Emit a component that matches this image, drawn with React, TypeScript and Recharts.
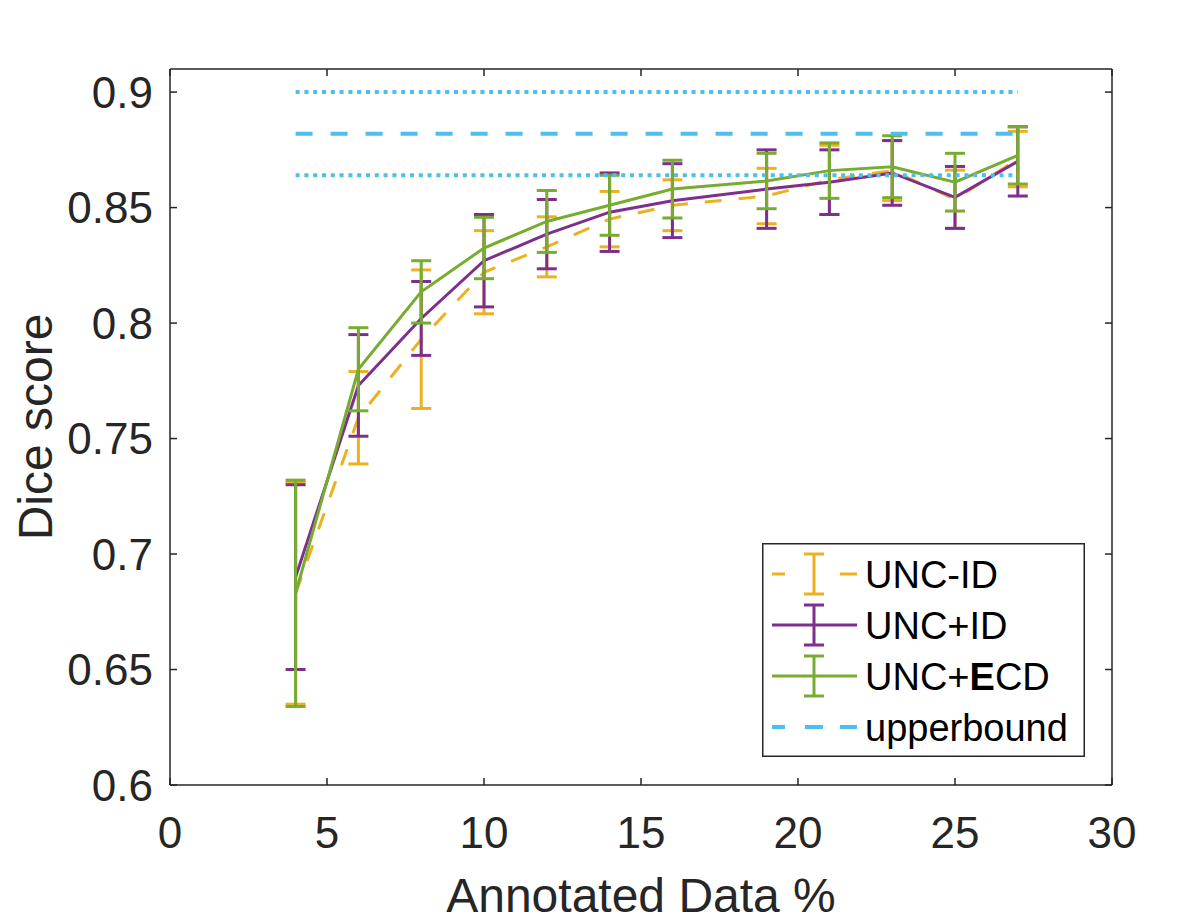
import { ComposedChart, ErrorBar, Legend, Line, XAxis, YAxis } from 'recharts';

// x positions (annotated data %) shared by the three methods
const ANNOTATED_PCT = [4, 6, 8, 10, 12, 14, 16, 19, 21, 23, 25, 27];

// mean Dice and half-width of the error bar
const UNC_ID = [0.683, 0.759, 0.793, 0.822, 0.833, 0.845, 0.851, 0.855, 0.862, 0.866, 0.8536, 0.871];
const UNC_ID_ERR = [0.048, 0.02, 0.03, 0.018, 0.013, 0.012, 0.011, 0.012, 0.015, 0.013, 0.0126, 0.012];
const UNC_PLUS_ID = [0.69, 0.773, 0.802, 0.827, 0.8385, 0.848, 0.853, 0.858, 0.861, 0.865, 0.8544, 0.87];
const UNC_PLUS_ID_ERR = [0.04, 0.022, 0.016, 0.02, 0.015, 0.017, 0.016, 0.017, 0.014, 0.014, 0.0134, 0.015];
const UNC_ECD = [0.683, 0.78, 0.8135, 0.8325, 0.844, 0.851, 0.858, 0.8615, 0.866, 0.8677, 0.861, 0.8726];
const UNC_ECD_ERR = [0.049, 0.018, 0.0135, 0.0133, 0.0134, 0.013, 0.0125, 0.012, 0.012, 0.0134, 0.0125, 0.0124];

// fully supervised upper bound (mean +/- std), drawn across the sampled range
const UPPERBOUND_SPAN = [4, 27];
const UPPERBOUND = 0.882;
const UPPERBOUND_STD = 0.018;

const X_TICKS = [0, 5, 10, 15, 20, 25, 30];
const Y_TICKS = [0.6, 0.65, 0.7, 0.75, 0.8, 0.85, 0.9];

const ORANGE = '#EDB120';
const PURPLE = '#7E2F8E';
const GREEN = '#77AC30';
const CYAN = '#4DBEEE';
const AXIS = '#262626';
const FONT = '"Liberation Sans", Arial, Helvetica, sans-serif';

const rows = ANNOTATED_PCT.map((x, i) => ({
  x,
  uncId: UNC_ID[i],
  uncIdErr: UNC_ID_ERR[i],
  uncPlusId: UNC_PLUS_ID[i],
  uncPlusIdErr: UNC_PLUS_ID_ERR[i],
  uncEcd: UNC_ECD[i],
  uncEcdErr: UNC_ECD_ERR[i],
}));

const upperRows = UPPERBOUND_SPAN.map((x) => ({
  x,
  ub: UPPERBOUND,
  ubHi: UPPERBOUND + UPPERBOUND_STD,
  ubLo: UPPERBOUND - UPPERBOUND_STD,
}));

const LEGEND_ROWS = [
  { key: 'uncId', color: ORANGE, dash: '13 55 17', errorBar: true },
  { key: 'uncPlusId', color: PURPLE, dash: undefined, errorBar: true },
  { key: 'uncEcd', color: GREEN, dash: undefined, errorBar: true },
  { key: 'ub', color: CYAN, dash: '13 20 18 17 17', errorBar: false },
];

function legendLabel(key: string) {
  if (key === 'uncId') return 'UNC-ID';
  if (key === 'uncPlusId') return 'UNC+ID';
  if (key === 'uncEcd')
    return (
      <>
        UNC+<tspan fontWeight="bold">E</tspan>CD
      </>
    );
  return 'upperbound';
}

function MatlabLegend() {
  return (
    <svg width={323} height={214} style={{ display: 'block' }}>
      <rect x={0.75} y={0.75} width={321.5} height={212.5} fill="#ffffff" stroke={AXIS} strokeWidth={1.5} />
      {LEGEND_ROWS.map((row, i) => {
        const cy = 31 + i * 51;
        return (
          <g key={row.key}>
            <line
              x1={10}
              x2={95}
              y1={cy}
              y2={cy}
              stroke={row.color}
              strokeWidth={row.key === 'ub' ? 4 : 3}
              strokeDasharray={row.dash}
            />
            {row.errorBar ? (
              <g stroke={row.color} strokeWidth={3}>
                <line x1={52} x2={52} y1={cy - 20} y2={cy + 20} />
                <line x1={42} x2={62} y1={cy - 20} y2={cy - 20} />
                <line x1={42} x2={62} y1={cy + 20} y2={cy + 20} />
              </g>
            ) : null}
            <text x={103} y={cy + 13.5} fontSize={38} fontFamily={FONT} fill="#000000">
              {legendLabel(row.key)}
            </text>
          </g>
        );
      })}
    </svg>
  );
}

const tickStyle = { fill: AXIS, fontSize: 44, fontFamily: FONT };

export default function App() {
  return (
    <div style={{ position: 'absolute', left: 0, top: 0, background: '#ffffff' }}>
      <ComposedChart
        width={1195}
        height={923}
        data={rows}
        margin={{ top: 68, right: 82, bottom: 0, left: 0 }}
      >
        <XAxis
          dataKey="x"
          type="number"
          domain={[0, 30]}
          ticks={X_TICKS}
          allowDataOverflow
          height={138}
          tickSize={-7}
          tickMargin={39}
          tick={tickStyle}
          axisLine={{ stroke: AXIS, strokeWidth: 1.5 }}
          tickLine={{ stroke: AXIS, strokeWidth: 1.5 }}
          label={({ viewBox }: any) => (
            <text
              x={viewBox.x + viewBox.width / 2}
              y={viewBox.y + 127}
              textAnchor="middle"
              fontSize={48}
              fontFamily={FONT}
              fill={AXIS}
            >
              Annotated Data %
            </text>
          )}
        />
        <XAxis
          xAxisId="top"
          orientation="top"
          dataKey="x"
          type="number"
          domain={[0, 30]}
          ticks={X_TICKS}
          allowDataOverflow
          height={1}
          tickSize={-7}
          tickFormatter={() => ''}
          axisLine={{ stroke: AXIS, strokeWidth: 1.5 }}
          tickLine={{ stroke: AXIS, strokeWidth: 1.5 }}
        />
        <YAxis
          type="number"
          domain={[0.6, 0.91]}
          ticks={Y_TICKS}
          allowDataOverflow
          width={170}
          tickSize={-7}
          tickMargin={24}
          tick={tickStyle}
          tickFormatter={(v: number) => `${Number(v.toFixed(2))}`}
          axisLine={{ stroke: AXIS, strokeWidth: 1.5 }}
          tickLine={{ stroke: AXIS, strokeWidth: 1.5 }}
          label={({ viewBox }: any) => {
            const cx = viewBox.x + 52;
            const cy = viewBox.y + viewBox.height / 2;
            return (
              <text
                x={cx}
                y={cy}
                transform={`rotate(-90, ${cx}, ${cy})`}
                textAnchor="middle"
                fontSize={48}
                fontFamily={FONT}
                fill={AXIS}
              >
                Dice score
              </text>
            );
          }}
        />
        <YAxis
          yAxisId="right"
          orientation="right"
          type="number"
          domain={[0.6, 0.91]}
          ticks={Y_TICKS}
          allowDataOverflow
          width={1}
          tickSize={-7}
          tickFormatter={() => ''}
          axisLine={{ stroke: AXIS, strokeWidth: 1.5 }}
          tickLine={{ stroke: AXIS, strokeWidth: 1.5 }}
        />

        <Line
          dataKey="uncId"
          name="UNC-ID"
          type="linear"
          stroke={ORANGE}
          strokeWidth={3}
          strokeDasharray="17 17"
          dot={false}
          activeDot={false}
          isAnimationActive={false}
        >
          <ErrorBar dataKey="uncIdErr" direction="y" width={10} stroke={ORANGE} strokeWidth={3} isAnimationActive={false} />
        </Line>
        <Line
          dataKey="uncPlusId"
          name="UNC+ID"
          type="linear"
          stroke={PURPLE}
          strokeWidth={3}
          dot={false}
          activeDot={false}
          isAnimationActive={false}
        >
          <ErrorBar dataKey="uncPlusIdErr" direction="y" width={10} stroke={PURPLE} strokeWidth={3} isAnimationActive={false} />
        </Line>
        <Line
          dataKey="uncEcd"
          name="UNC+ECD"
          type="linear"
          stroke={GREEN}
          strokeWidth={3}
          dot={false}
          activeDot={false}
          isAnimationActive={false}
        >
          <ErrorBar dataKey="uncEcdErr" direction="y" width={10} stroke={GREEN} strokeWidth={3} isAnimationActive={false} />
        </Line>

        <Line
          data={upperRows}
          dataKey="ub"
          name="upperbound"
          stroke={CYAN}
          strokeWidth={4}
          strokeDasharray="17 18"
          dot={false}
          activeDot={false}
          isAnimationActive={false}
        />
        <Line
          data={upperRows}
          dataKey="ubHi"
          legendType="none"
          stroke={CYAN}
          strokeWidth={4}
          strokeDasharray="4 4.8"
          dot={false}
          activeDot={false}
          isAnimationActive={false}
        />
        <Line
          data={upperRows}
          dataKey="ubLo"
          legendType="none"
          stroke={CYAN}
          strokeWidth={4}
          strokeDasharray="4 4.8"
          dot={false}
          activeDot={false}
          isAnimationActive={false}
        />

        <Legend
          layout="horizontal"
          verticalAlign="middle"
          align="center"
          content={() => <MatlabLegend />}
          wrapperStyle={{ position: 'absolute', left: 762, top: 543, width: 323, height: 214 }}
        />
      </ComposedChart>
    </div>
  );
}
